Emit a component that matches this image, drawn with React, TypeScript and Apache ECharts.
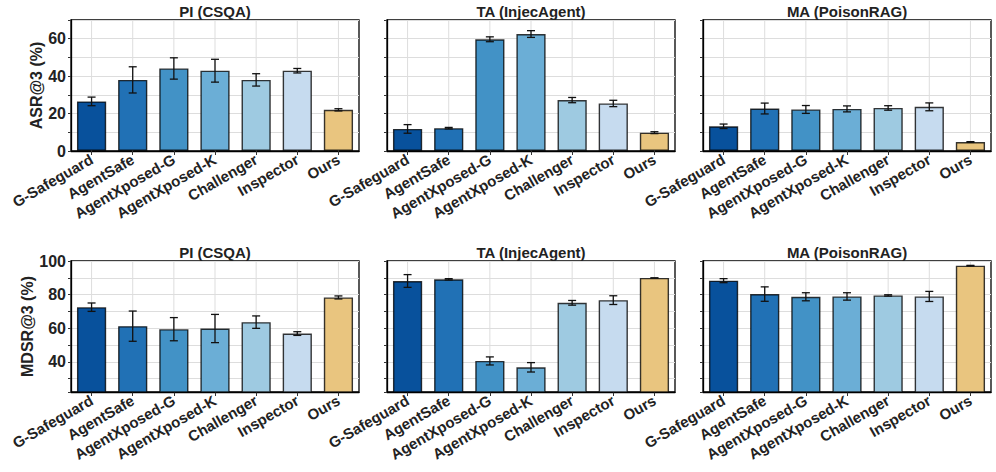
import React, { useEffect, useRef } from "react";
import * as echarts from "echarts";

const categories = ["G-Safeguard", "AgentSafe", "AgentXposed-G", "AgentXposed-K", "Challenger", "Inspector", "Ours"];
const barColors = ["#08519c", "#2171b5", "#4292c6", "#6baed6", "#9ecae1", "#c6dbef", "#e9c57f"];

const panelTitles = ["PI (CSQA)", "TA (InjecAgent)", "MA (PoisonRAG)"];
const rowLabels = ["ASR@3 (%)", "MDSR@3 (%)"];

const asrPI = [26.5, 38.0, 44.1, 42.9, 38.0, 42.9, 22.0];
const asrPIErr = [2.3, 7.0, 5.7, 6.1, 3.3, 1.2, 0.6];
const asrTA = [11.8, 12.2, 59.7, 62.5, 27.2, 25.4, 9.8];
const asrTAErr = [2.3, 0.4, 1.3, 1.8, 1.4, 1.7, 0.5];
const asrMA = [13.2, 22.7, 22.2, 22.5, 23.0, 23.6, 4.8];
const asrMAErr = [1.2, 2.9, 2.1, 1.6, 1.2, 2.1, 0.2];

const mdsrPI = [72.5, 61.2, 59.4, 59.8, 63.6, 56.8, 78.3];
const mdsrPIErr = [2.5, 9.0, 6.9, 8.4, 3.7, 1.1, 0.9];
const mdsrTA = [88.1, 89.1, 40.5, 36.7, 75.1, 76.7, 89.9];
const mdsrTAErr = [3.8, 0.4, 2.4, 2.8, 1.4, 2.6, 0.0];
const mdsrMA = [88.3, 80.3, 78.7, 78.9, 79.5, 78.9, 97.2];
const mdsrMAErr = [1.2, 4.3, 2.4, 2.2, 0.4, 3.0, 0.2];

const rowRanges = [
  [0, 70],
  [22, 100],
];

export default function App() {
  const ref = useRef<HTMLDivElement>(null);

  useEffect(() => {
    document.body.style.margin = "0";
    if (!ref.current) return;
    const chart = echarts.init(ref.current, null, { renderer: "svg" });

    const font = "'Liberation Sans', Arial, sans-serif";
    const textColor = "#222";
    const panels = [
      { vals: asrPI, errs: asrPIErr, row: 0, col: 0 },
      { vals: asrTA, errs: asrTAErr, row: 0, col: 1 },
      { vals: asrMA, errs: asrMAErr, row: 0, col: 2 },
      { vals: mdsrPI, errs: mdsrPIErr, row: 1, col: 0 },
      { vals: mdsrTA, errs: mdsrTAErr, row: 1, col: 1 },
      { vals: mdsrMA, errs: mdsrMAErr, row: 1, col: 2 },
    ];
    const lefts = [71, 387, 703];
    const tops = [20, 261];
    const W = 288;
    const H = 131;

    const grids: any[] = [];
    const xAxes: any[] = [];
    const yAxes: any[] = [];
    const series: any[] = [];
    const graphics: any[] = [];

    panels.forEach((p, i) => {
      const [ymin, ymax] = rowRanges[p.row];
      grids.push({
        left: lefts[p.col],
        top: tops[p.row],
        width: W,
        height: H,
        show: true,
        borderColor: "#000",
        borderWidth: 1.3,
        backgroundColor: "transparent",
      });
      xAxes.push({
        type: "category",
        gridIndex: i,
        data: categories,
        boundaryGap: true,
        axisLine: { show: true, lineStyle: { color: "#000", width: 1.3 } },
        axisTick: { show: true, alignWithLabel: true, length: 4, lineStyle: { color: "#333" } },
        axisLabel: {
          interval: 0,
          rotate: 30,
          margin: 7,
          fontSize: 15,
          fontWeight: "bold",
          fontFamily: font,
          color: textColor,
        },
        splitLine: { show: false },
      });
      const yAxis: any = {
        type: "value",
        gridIndex: i,
        min: ymin,
        max: ymax,
        axisLine: { show: true, lineStyle: { color: "#000", width: 1.3 } },
        axisTick: { show: true, length: 3, lineStyle: { color: "#333" } },
        axisLabel: {
          show: p.col === 0,
          margin: 5,
          fontSize: 16,
          fontWeight: "bold",
          fontFamily: font,
          color: textColor,
          formatter: (v: number) => (Math.abs(v % 20) < 1e-6 ? String(v) : ""),
        },
        splitLine: { show: true, lineStyle: { color: "#dddddd", width: 1 } },
      };
      if (p.row === 0) {
        yAxis.interval = 10;
      } else {
        yAxis.minInterval = 10;
        yAxis.maxInterval = 10;
      }
      if (p.col === 0) {
        yAxis.name = rowLabels[p.row];
        yAxis.nameLocation = "middle";
        yAxis.nameGap = p.row === 0 ? 26 : 33;
        yAxis.nameTextStyle = {
          fontSize: 16,
          fontWeight: "bold",
          fontFamily: font,
          color: textColor,
        };
      }
      yAxes.push(yAxis);

      // vertical gridlines at category centres
      series.push({
        type: "custom",
        xAxisIndex: i,
        yAxisIndex: i,
        silent: true,
        z: 1,
        data: categories.map((_, k) => [k]),
        renderItem: (params: any, api: any) => {
          const k = api.value(0);
          const a = api.coord([k, ymin]);
          const b = api.coord([k, ymax]);
          return {
            type: "line",
            shape: { x1: a[0], y1: a[1], x2: b[0], y2: b[1] },
            style: { stroke: "#dddddd", lineWidth: 1 },
          };
        },
      });

      series.push({
        type: "bar",
        xAxisIndex: i,
        yAxisIndex: i,
        z: 2,
        barWidth: "71%",
        data: p.vals.map((v, k) => ({
          value: v,
          itemStyle: { color: barColors[k] },
        })),
        itemStyle: { borderColor: "rgba(0,0,0,0.78)", borderWidth: 1.4 },
      });

      series.push({
        type: "custom",
        xAxisIndex: i,
        yAxisIndex: i,
        silent: true,
        z: 3,
        data: p.vals.map((v, k) => [k, v, p.errs[k]]),
        renderItem: (params: any, api: any) => {
          const k = api.value(0);
          const v = api.value(1);
          const e = api.value(2);
          const t = api.coord([k, v + e]);
          const b = api.coord([k, v - e]);
          const hw = 4;
          const st = { stroke: "#111", lineWidth: 1.3 };
          return {
            type: "group",
            children: [
              { type: "line", shape: { x1: t[0], y1: t[1], x2: b[0], y2: b[1] }, style: st },
              { type: "line", shape: { x1: t[0] - hw, y1: t[1], x2: t[0] + hw, y2: t[1] }, style: st },
              { type: "line", shape: { x1: b[0] - hw, y1: b[1], x2: b[0] + hw, y2: b[1] }, style: st },
            ],
          };
        },
      });

      graphics.push({
        type: "text",
        x: lefts[p.col] + W / 2,
        y: tops[p.row] - 9,
        style: {
          text: panelTitles[p.col],
          fontSize: 15,
          fontWeight: "bold",
          fontFamily: font,
          fill: textColor,
          align: "center",
          verticalAlign: "middle",
        },
      });
    });

    chart.setOption({
      animation: false,
      backgroundColor: "#ffffff",
      grid: grids,
      xAxis: xAxes,
      yAxis: yAxes,
      series,
      graphic: graphics,
    });

    return () => chart.dispose();
  }, []);

  return <div ref={ref} style={{ width: 996, height: 472 }} />;
}
